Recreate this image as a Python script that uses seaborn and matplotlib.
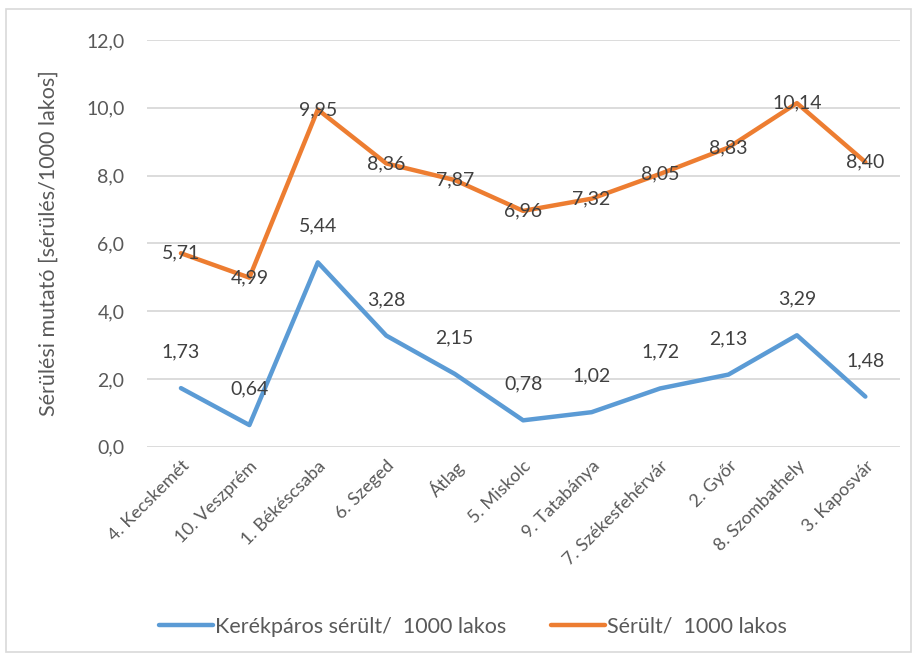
import matplotlib
matplotlib.use("Agg")
import matplotlib.pyplot as plt
import seaborn as sns
import pandas as pd
from matplotlib.patches import Rectangle

cities = ["4. Kecskemét", "10. Veszprém", "1. Békéscsaba", "6. Szeged", "Átlag",
          "5. Miskolc", "9. Tatabánya", "7. Székesfehérvár", "2. Győr",
          "8. Szombathely", "3. Kaposvár"]
bike = [1.73, 0.64, 5.44, 3.28, 2.15, 0.78, 1.02, 1.72, 2.13, 3.29, 1.48]
total = [5.71, 4.99, 9.95, 8.36, 7.87, 6.96, 7.32, 8.05, 8.83, 10.14, 8.40]
series_names = ["Kerékpáros sérült/  1000 lakos", "Sérült/  1000 lakos"]
yticks = [0, 2, 4, 6, 8, 10, 12]

sns.set_theme(style="white")
plt.rcParams['font.family'] = ['Lato', 'DejaVu Sans']
gray = "#595959"

df = pd.DataFrame({
    "pos": list(range(len(cities))) * 2,
    "value": bike + total,
    "series": [series_names[0]] * len(cities) + [series_names[1]] * len(cities),
})

fig = plt.figure(figsize=(9.17, 6.57), dpi=100)
ax = fig.add_axes([0.160, 0.320, 0.821, 0.619])
palette = {series_names[0]: "#5B9BD5", series_names[1]: "#ED7D31"}
sns.lineplot(data=df, x="pos", y="value", hue="series", palette=palette,
             linewidth=3.2, ax=ax, legend=True, solid_capstyle="round")

ax.set_xlim(-0.5, len(cities) - 0.5)
ax.set_ylim(0, 12)
ax.set_yticks(yticks)
ax.set_yticklabels([f"{v:.1f}".replace(".", ",") for v in yticks], fontsize=14, color=gray)
ax.set_xticks(range(len(cities)))
ax.set_xticklabels(cities, rotation=45, ha="right", rotation_mode="anchor",
                   fontsize=13, color=gray)
ax.tick_params(axis="x", length=0, pad=8)
ax.tick_params(axis="y", length=0, pad=16)
ax.grid(axis="y", color="#D9D9D9", linewidth=1.3)
ax.set_axisbelow(True)
for s in ax.spines.values():
    s.set_visible(False)
ax.set_xlabel("")
ax.set_ylabel("Sérülési mutató [sérülés/1000 lakos]", fontsize=15.5, color=gray, labelpad=20)

for i, v in enumerate(bike):
    ax.annotate(f"{v:.2f}".replace(".", ","), (i, v), xytext=(0, 26), textcoords="offset points",
                ha="center", va="center", fontsize=14, color="#404040")
for i, v in enumerate(total):
    ax.annotate(f"{v:.2f}".replace(".", ","), (i, v), xytext=(0, 0), textcoords="offset points",
                ha="center", va="center", fontsize=14, color="#404040")

handles, labels = ax.get_legend_handles_labels()
ax.legend(handles, labels, loc="center", bbox_to_anchor=(0.516, 0.046),
          bbox_transform=fig.transFigure, ncol=2, frameon=False, fontsize=15.5,
          handlelength=2.5, handletextpad=0.1, columnspacing=2.1, labelcolor=gray)

fig.patches.append(Rectangle((0.006, 0.008), 0.988, 0.978, transform=fig.transFigure,
                             fill=False, edgecolor="#D9D9D9", linewidth=1.2))

fig.savefig("out.png", dpi=100)
